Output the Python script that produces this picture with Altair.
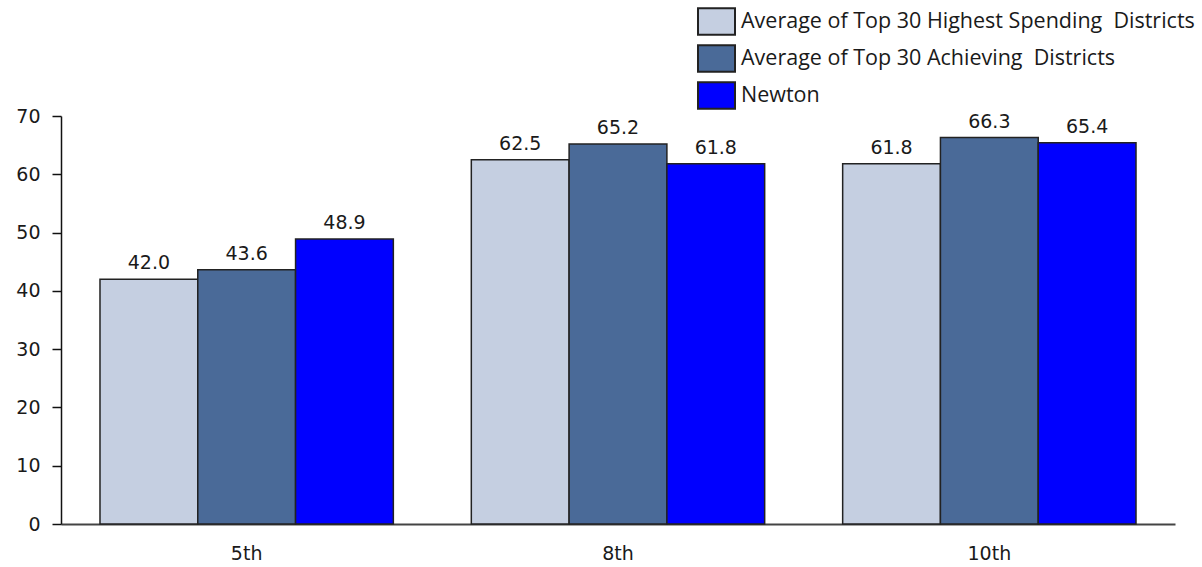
import altair as alt
import pandas as pd

# Grade levels on the x axis and the three compared series
grades = ["5th", "8th", "10th"]
series = [
    "Average of Top 30 Highest Spending\u00a0 Districts",
    "Average of Top 30 Achieving\u00a0 Districts",
    "Newton",
]
top_spending = [42.0, 62.5, 61.8]
top_achieving = [43.6, 65.2, 66.3]
newton = [48.9, 61.8, 65.4]
colors = ["#c5cfe1", "#4a6a98", "#0000ff"]
y_ticks = [0, 10, 20, 30, 40, 50, 60, 70]

rows = []
for name, vals in zip(series, [top_spending, top_achieving, newton]):
    for g, v in zip(grades, vals):
        rows.append({"grade": g, "series": name, "value": v})
df = pd.DataFrame(rows)

axis_font = "DejaVu Sans"
legend_font = "Open Sans"

base = alt.Chart(df).encode(
    x=alt.X(
        "grade:N",
        sort=grades,
        scale=alt.Scale(paddingInner=0.21, paddingOuter=0.105),
        axis=alt.Axis(
            title=None,
            labelAngle=0,
            ticks=False,
            labelPadding=20,
            labelFont=axis_font,
            labelFontSize=19,
            labelColor="#1a1a1a",
            domainColor="#444444",
            domainWidth=2,
        ),
    ),
    xOffset=alt.XOffset("series:N", sort=series, scale=alt.Scale(paddingInner=0, paddingOuter=0)),
    y=alt.Y(
        "value:Q",
        scale=alt.Scale(domain=[0, 70], nice=False),
        axis=alt.Axis(
            title=None,
            values=y_ticks,
            grid=False,
            tickSize=9,
            tickWidth=1.5,
            tickColor="#111111",
            domainColor="#111111",
            domainWidth=1.5,
            labelPadding=12,
            labelFont=axis_font,
            labelFontSize=19,
            labelColor="#1a1a1a",
        ),
    ),
)

bars = base.mark_bar(stroke="#222222", strokeWidth=1.5).encode(
    color=alt.Color(
        "series:N",
        sort=series,
        scale=alt.Scale(domain=series, range=colors),
        legend=alt.Legend(
            title=None,
            orient="none",
            legendX=636,
            legendY=-114,
            padding=0,
            symbolType="M-1,-0.71H1V0.71H-1Z",
            symbolSize=1369,
            symbolStrokeColor="#222222",
            symbolStrokeWidth=2,
            symbolOpacity=1,
            labelFont=legend_font,
            labelFontSize=21.5,
            labelColor="#1a1a1a",
            labelOffset=5,
            labelLimit=600,
            rowPadding=-1.5,
        ),
    )
)

labels = base.mark_text(
    baseline="bottom",
    dy=-6,
    font=axis_font,
    fontSize=19,
    color="#1a1a1a",
).encode(text=alt.Text("value:Q", format=".1f"))

chart = (
    alt.layer(bars, labels)
    .properties(
        width=1114,
        height=408,
        background="white",
        autosize=alt.AutoSizeParams(type="none"),
        padding={"left": 61, "top": 116, "right": 27, "bottom": 43},
    )
    .configure_view(strokeWidth=0, stroke=None)
)

chart.save("out.html", embed_options={"renderer": "svg", "actions": False})
